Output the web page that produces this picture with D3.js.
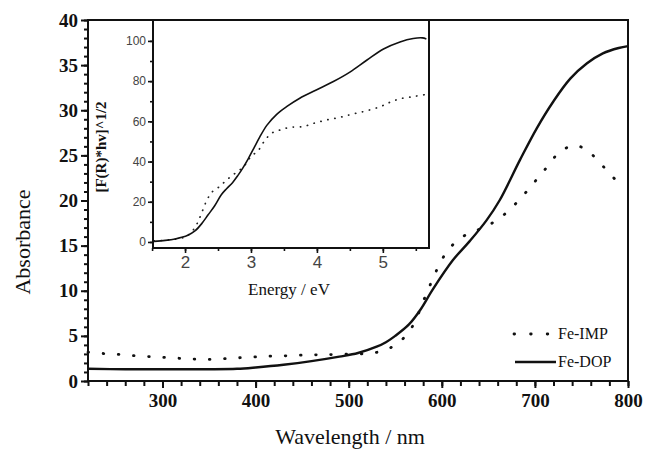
<!DOCTYPE html>
<html>
<head>
<meta charset="utf-8">
<script src="https://cdn.jsdelivr.net/npm/d3@7"></script>
<style>
  body { margin: 0; background: #fff; }
  svg { display: block; }
  .main-tick text { font-family: "Liberation Serif", "Times New Roman", serif; font-weight: bold; font-size: 19px; fill: #111; }
  .inset-tick text { font-family: "Liberation Sans", Arial, sans-serif; fill: #444; }
</style>
</head>
<body>
<svg id="canvas"></svg>
<script>
// main chart: wavelength (nm) vs absorbance
let domNm  = [220, 260, 300, 350, 380, 400, 430, 460, 490, 510, 530, 540, 550, 565, 577, 590, 612, 630, 648, 662, 684, 702, 720, 738, 756, 773, 790, 800]
let domAbs = [1.35, 1.3, 1.3, 1.3, 1.35, 1.5, 1.8, 2.2, 2.7, 3.1, 3.8, 4.3, 5.0, 6.3, 7.9, 10.1, 13.4, 15.5, 17.8, 20.0, 24.5, 28.0, 31.0, 33.5, 35.2, 36.3, 36.9, 37.1]

let impNm  = [220, 236, 253, 270, 287, 304, 321, 337, 354, 371, 387, 404, 420, 437, 454, 470, 487, 519, 537, 553, 567, 582, 589, 596, 606, 621, 638, 654, 670, 686, 700, 713, 727, 744, 760, 775, 790]
let impAbs = [3.2, 3.05, 2.95, 2.8, 2.7, 2.6, 2.5, 2.42, 2.4, 2.5, 2.6, 2.7, 2.77, 2.8, 2.9, 2.9, 2.95, 3.05, 3.35, 4.2, 5.8, 9.3, 11.0, 12.6, 14.4, 15.9, 16.7, 17.5, 18.7, 20.4, 22.1, 23.7, 25.4, 26.1, 25.2, 23.6, 21.9]

// inset: energy (eV) vs [F(R)*hv]^1/2
let domEv  = [1.53, 1.7, 1.85, 1.95, 2.05, 2.15, 2.25, 2.35, 2.45, 2.55, 2.63, 2.72, 2.8, 2.88, 2.96, 3.05, 3.13, 3.24, 3.39, 3.54, 3.74, 3.99, 4.25, 4.5, 4.76, 5.01, 5.26, 5.46, 5.6, 5.66]
let domKm  = [0.3, 0.8, 1.5, 2.3, 3.5, 5.5, 9, 13.5, 18, 23.5, 26.5, 29.5, 33, 37, 41.5, 47, 52, 58, 63.5, 67.3, 71.5, 75.6, 79.8, 84.5, 90.5, 96, 99.5, 101.2, 101.5, 101]

let impEv  = [1.53, 1.8, 2.0, 2.1, 2.18, 2.25, 2.32, 2.4, 2.52, 2.63, 2.76, 2.89, 3.0, 3.11, 3.21, 3.31, 3.44, 3.59, 3.79, 3.95, 4.15, 4.35, 4.55, 4.76, 4.96, 5.11, 5.26, 5.46, 5.64]
let impKm  = [0.5, 1.2, 2.5, 5, 9, 14.3, 20, 24.5, 27.5, 30.8, 34.2, 37.5, 42.5, 45.5, 50.5, 54, 55.7, 57, 57.4, 59, 60.7, 62, 63.7, 65.3, 67.3, 69.5, 71.2, 72.3, 73.3]

let xTicks = [300, 400, 500, 600, 700, 800]
let yTicks = [0, 5, 10, 15, 20, 25, 30, 35, 40]
let insetXTicks = [2, 3, 4, 5]
let insetYTicks = [0, 20, 40, 60, 80, 100]
let seriesNames = ['Fe-IMP', 'Fe-DOP']

let width = 646
let height = 453

let canvas = d3.select('#canvas')
canvas.attr('width', width)
      .attr('height', height)

let mLeft = 88, mRight = 628, mTop = 20, mBottom = 381

let xScale = d3.scaleLinear().domain([220, 800]).range([mLeft, mRight])
let yScale = d3.scaleLinear().domain([0, 40]).range([mBottom, mTop])

let inL = 153, inR = 429, inT = 20, inB = 248
let exScale = d3.scaleLinear().domain([1.514, 5.70]).range([inL, inR])
let eyScale = d3.scaleLinear().domain([-3, 110.4]).range([inB, inT])

let zip = (a, b) => a.map((v, i) => [v, b[i]])

// main curves
let mainLine = d3.line()
                 .x((d) => xScale(d[0]))
                 .y((d) => yScale(d[1]))
                 .curve(d3.curveCatmullRom)

canvas.append('path')
      .attr('d', mainLine(zip(impNm, impAbs)))
      .attr('fill', 'none')
      .attr('stroke', '#111')
      .attr('stroke-width', 2.8)
      .attr('stroke-linecap', 'round')
      .attr('stroke-dasharray', '0.6,14.6')

canvas.append('path')
      .attr('d', mainLine(zip(domNm, domAbs)))
      .attr('fill', 'none')
      .attr('stroke', '#111')
      .attr('stroke-width', 2.4)

// main axes
let styleAxis = (g) => {
    g.select('.domain').remove()
    g.selectAll('line').attr('stroke', '#111').attr('stroke-width', 2)
}

canvas.append('g')
      .attr('class', 'main-tick')
      .attr('transform', 'translate(0,' + mBottom + ')')
      .call(d3.axisBottom(xScale).tickValues(d3.range(220, 801, 20)).tickSize(5).tickFormat(''))
      .call(styleAxis)

canvas.append('g')
      .attr('class', 'main-tick')
      .attr('transform', 'translate(0,' + mBottom + ')')
      .call(d3.axisBottom(xScale).tickValues(xTicks).tickSize(7).tickPadding(6))
      .call(styleAxis)

canvas.append('g')
      .attr('class', 'main-tick')
      .attr('transform', 'translate(' + mLeft + ',0)')
      .call(d3.axisLeft(yScale).tickValues(d3.range(0, 41, 1)).tickSize(4).tickFormat(''))
      .call(styleAxis)

canvas.append('g')
      .attr('class', 'main-tick')
      .attr('transform', 'translate(' + mLeft + ',0)')
      .call(d3.axisLeft(yScale).tickValues(yTicks).tickSize(7).tickPadding(3))
      .call(styleAxis)

canvas.append('rect')
      .attr('x', mLeft)
      .attr('y', mTop)
      .attr('width', mRight - mLeft)
      .attr('height', mBottom - mTop)
      .attr('fill', 'none')
      .attr('stroke', '#111')
      .attr('stroke-width', 2)

canvas.append('text')
      .attr('transform', 'translate(30,242) rotate(-90)')
      .attr('text-anchor', 'middle')
      .style('font-family', '"Liberation Serif", "Times New Roman", serif')
      .style('font-size', '22px')
      .attr('fill', '#111')
      .text('Absorbance')

canvas.append('text')
      .attr('x', 350)
      .attr('y', 444)
      .attr('text-anchor', 'middle')
      .style('font-family', '"Liberation Serif", "Times New Roman", serif')
      .style('font-size', '22px')
      .attr('fill', '#111')
      .text('Wavelength / nm')

// legend
let legend = canvas.append('g')
legend.append('line')
      .attr('x1', 514).attr('x2', 548).attr('y1', 334).attr('y2', 334)
      .attr('stroke', '#111').attr('stroke-width', 2.8)
      .attr('stroke-linecap', 'round').attr('stroke-dasharray', '0.6,16')
legend.append('line')
      .attr('x1', 515).attr('x2', 556).attr('y1', 362).attr('y2', 362)
      .attr('stroke', '#111').attr('stroke-width', 2.4)
legend.selectAll('text')
      .data(seriesNames)
      .enter()
      .append('text')
      .attr('x', 558)
      .attr('y', (d, i) => 339 + i * 28)
      .style('font-family', '"Liberation Serif", "Times New Roman", serif')
      .style('font-size', '16px')
      .attr('fill', '#111')
      .text((d) => d)

// inset
canvas.append('rect')
      .attr('x', inL)
      .attr('y', inT)
      .attr('width', inR - inL)
      .attr('height', inB - inT)
      .attr('fill', '#fff')

let insetLine = d3.line()
                  .x((d) => exScale(d[0]))
                  .y((d) => eyScale(d[1]))
                  .curve(d3.curveCatmullRom)

canvas.append('path')
      .attr('d', insetLine(zip(impEv, impKm)))
      .attr('fill', 'none')
      .attr('stroke', '#222')
      .attr('stroke-width', 1.7)
      .attr('stroke-linecap', 'round')
      .attr('stroke-dasharray', '0.3,6.8')

canvas.append('path')
      .attr('d', insetLine(zip(domEv, domKm)))
      .attr('fill', 'none')
      .attr('stroke', '#111')
      .attr('stroke-width', 1.6)

let styleInset = (g) => {
    g.select('.domain').remove()
    g.selectAll('line').attr('stroke', '#111').attr('stroke-width', 1.6)
}

canvas.append('g')
      .attr('class', 'inset-tick')
      .attr('transform', 'translate(0,' + inB + ')')
      .call(d3.axisBottom(exScale).tickValues(d3.range(1.5, 5.6, 0.5)).tickSize(3).tickFormat(''))
      .call(styleInset)

canvas.append('g')
      .attr('class', 'inset-tick')
      .attr('transform', 'translate(0,' + inB + ')')
      .call(d3.axisBottom(exScale).tickValues(insetXTicks).tickSize(5).tickPadding(3).tickFormat(d3.format('d')))
      .call(styleInset)
      .selectAll('text').style('font-size', '17px')

canvas.append('g')
      .attr('class', 'inset-tick')
      .attr('transform', 'translate(' + inL + ',0)')
      .call(d3.axisLeft(eyScale).tickValues(d3.range(0, 101, 10)).tickSize(3).tickFormat(''))
      .call(styleInset)

canvas.append('g')
      .attr('class', 'inset-tick')
      .attr('transform', 'translate(' + inL + ',0)')
      .call(d3.axisLeft(eyScale).tickValues(insetYTicks).tickSize(5).tickPadding(2))
      .call(styleInset)
      .selectAll('text').style('font-size', '12px')

canvas.append('rect')
      .attr('x', inL)
      .attr('y', inT)
      .attr('width', inR - inL)
      .attr('height', inB - inT)
      .attr('fill', 'none')
      .attr('stroke', '#111')
      .attr('stroke-width', 2)

canvas.append('text')
      .attr('transform', 'translate(106,147) rotate(-90)')
      .attr('text-anchor', 'middle')
      .style('font-family', '"Liberation Serif", "Times New Roman", serif')
      .style('font-size', '15px')
      .style('font-weight', 'bold')
      .attr('fill', '#111')
      .text('[F(R)*hv]^1/2')

canvas.append('text')
      .attr('x', 289)
      .attr('y', 295)
      .attr('text-anchor', 'middle')
      .style('font-family', '"Liberation Serif", "Times New Roman", serif')
      .style('font-size', '17px')
      .attr('fill', '#111')
      .text('Energy / eV')
</script>
</body>
</html>
